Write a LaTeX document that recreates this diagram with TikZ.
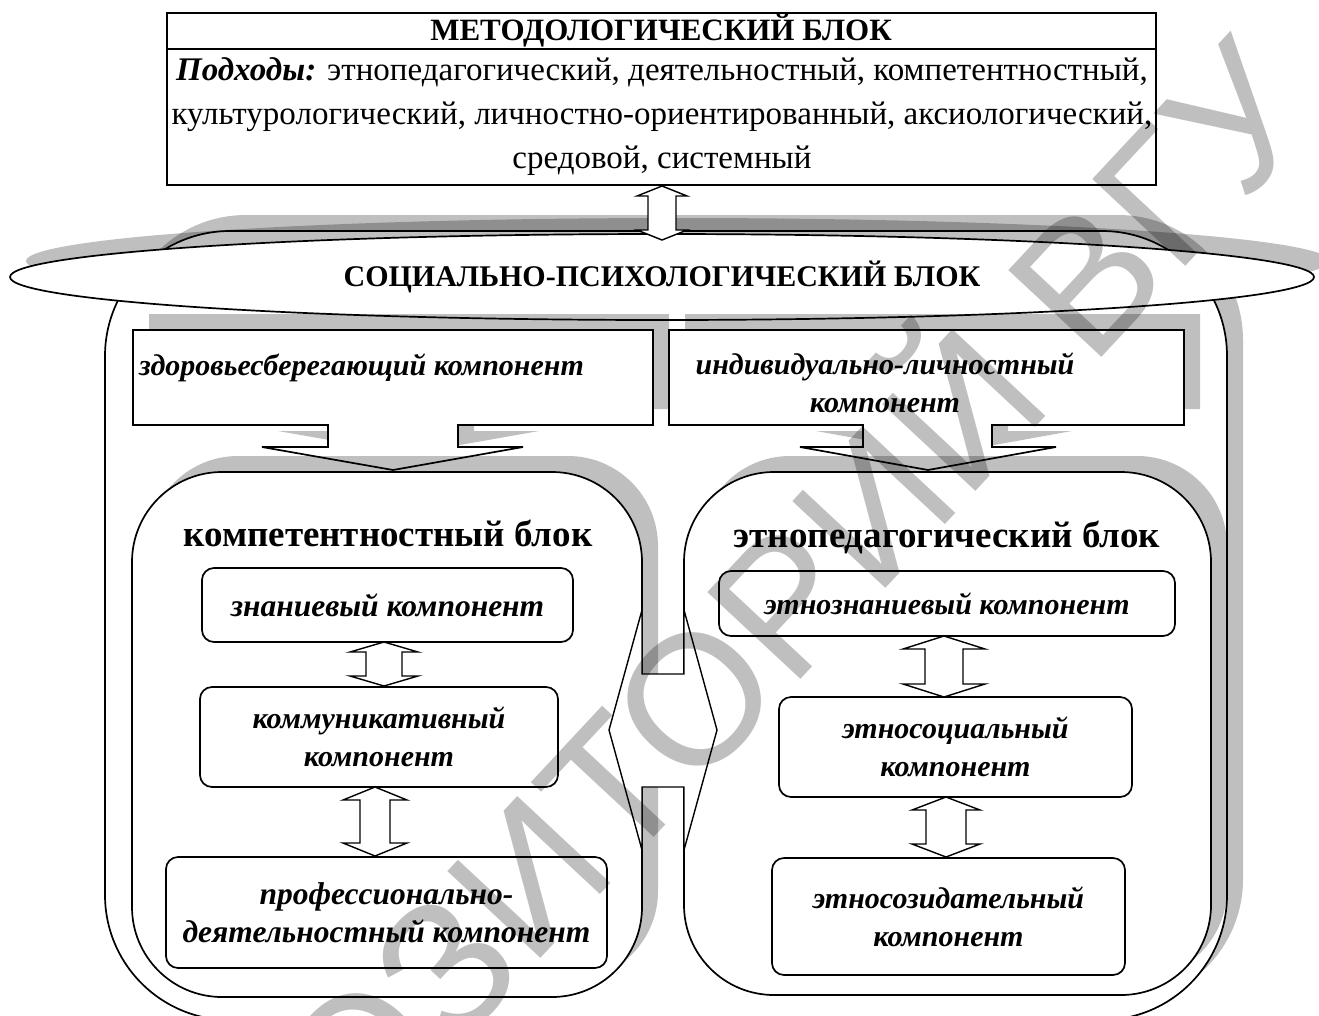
\documentclass[tikz,border=0pt]{standalone}
\usepackage{fontspec}
\setmainfont{Liberation Serif}
\newfontfamily\wmfont{Liberation Sans}
\usetikzlibrary{shapes.geometric,shadows,calc}
\newcommand\fsz[2]{\fontsize{#1}{#2}\selectfont}
\newcommand\vdar[5]{\path[dar] let \p1=(#1), \p2=(#2) in (\x1,\y1) -- ++(#3pt,-#5pt) -- ++(-#3pt+#4pt,0pt) -- (\x1+#4pt,\y2+#5pt) -- ++(#3pt-#4pt,0pt) -- (\x1,\y2) -- ++(-#3pt,#5pt) -- ++(#3pt-#4pt,0pt) -- (\x1-#4pt,\y1-#5pt) -- ++(-#3pt+#4pt,0pt) -- cycle;}
\begin{document}
\begin{tikzpicture}[x=1pt,y=-1pt,
  ln/.style={draw=black, line width=1.7pt, fill=white},
  shd/.style={drop shadow={shadow xshift=16pt, shadow yshift=16pt, fill=black, opacity=0.25}},
  blk/.style={ln, shd, rounded corners=90pt, inner sep=0pt},
  comp/.style={ln, rounded corners=12pt, inner sep=0pt, align=center, font=\bfseries\itshape\fsz{30}{38}},
  dar/.style={draw=black, line width=1.4pt, fill=white, line join=miter},
  ttl/.style={font=\bfseries\fsz{37}{40}},
  cmt/.style={font=\bfseries\itshape\fsz{30}{38}, align=center, inner sep=0pt}]
\useasboundingbox (0,0) rectangle (1319,1015);
\fill[white] (0,0) rectangle (1319,1015);
% outer frame
\node[ln, shd, rounded corners=125pt, minimum width=1122pt, minimum height=789pt, inner sep=0pt] (outer) at (666,625.5) {};
% ellipse
\node[ln, shd, ellipse, minimum width=1304pt, minimum height=86pt, inner sep=0pt, font=\bfseries\fsz{30}{32}] (soc) at (662,277) {СОЦИАЛЬНО-ПСИХОЛОГИЧЕСКИЙ БЛОК};
% callouts
\path[ln, shd] (133,330) -- (653,330) -- (653,425) -- (458,425) -- (458,447) -- (523,447) -- (393,470) -- (262,447) -- (328,447) -- (328,425) -- (133,425) -- cycle;
\path[ln, shd] (669,330) -- (1184,330) -- (1184,425) -- (992,425) -- (992,447) -- (1056,447) -- (928,470) -- (800,447) -- (863,447) -- (863,425) -- (669,425) -- cycle;
\node[cmt, anchor=west] (zdor) at (139,368) {здоровьесберегающий компонент};
\node[cmt] (indiv) at (885,383) {индивидуально-личностный\\компонент};
% blocks
\node[blk, minimum width=510pt, minimum height=525pt] (kb) at (387,734.5) {};
\node[blk, minimum width=527pt, minimum height=523pt] (eb) at (947.5,733.5) {};
\node[ttl] (kbt) at (388,533) {компетентностный блок};
\node[ttl] (ebt) at (947,537) {этнопедагогический блок};
% components
\node[comp, minimum width=371pt, minimum height=74pt, font=\bfseries\itshape\fsz{31.5}{38}] (zn) at (387.5,605) {знаниевый компонент};
\node[comp, minimum width=358pt, minimum height=100pt] (km) at (379,737) {коммуникативный\\компонент};
\node[comp, minimum width=441pt, minimum height=111pt, font=\bfseries\itshape\fsz{31.5}{38}] (pr) at (386.5,912.5) {профессионально-\\деятельностный компонент};
\node[comp, minimum width=456pt, minimum height=65pt] (ez) at (947,603.5) {этнознаниевый компонент};
\node[comp, minimum width=353pt, minimum height=100pt] (es) at (955.5,747) {этносоциальный\\компонент};
\node[comp, minimum width=353pt, minimum height=117pt] (esz) at (948.5,916.5) {этносозидательный\\компонент};
% vertical double arrows
\coordinate (a1t) at (384,642); \coordinate (a1b) at (384,686);
\coordinate (a2t) at (375,787); \coordinate (a2b) at (375,856);
\coordinate (a3t) at (944,636); \coordinate (a3b) at (944,697);
\coordinate (a4t) at (946,797); \coordinate (a4b) at (946,857);
\vdar{a1t}{a1b}{34}{18}{10}
\vdar{a2t}{a2b}{32}{15}{13}
\vdar{a3t}{a3b}{41}{19}{13}
\vdar{a4t}{a4b}{34}{20}{13}
% left-right arrow between blocks
\path[dar] (609,730) -- (642,610) -- (642,674) -- (684,674) -- (684,610) -- (717,730) -- (684,850) -- (684,787) -- (642,787) -- (642,850) -- cycle;
% top block
\node[draw=black, line width=2pt, fill=white, minimum width=989pt, minimum height=172pt, inner sep=0pt] (tb) at (661.5,99) {};
\draw[line width=2pt] (tb.west |- 0,49) -- (tb.east |- 0,49);
\node[font=\bfseries\fsz{31}{32}] (tbt) at (661,31) {МЕТОДОЛОГИЧЕСКИЙ БЛОК};
\node[align=center, font=\fsz{33}{44}, inner sep=0pt] (tbb) at (662,117) {\textbf{\textit{Подходы:}} этнопедагогический, деятельностный, компетентностный,\\культурологический, личностно-ориентированный, аксиологический,\\средовой, системный};
\coordinate (t1) at (662,186); \coordinate (t2) at (662,240);
\vdar{t1}{t2}{25}{14}{10}
% watermark
\node[font=\wmfont\fsz{185}{185}, rotate=47, text=black, text opacity=0.25] (wm) at (650,720) {РЕПОЗИТОРИЙ ВГУ};
\end{tikzpicture}
\end{document}
